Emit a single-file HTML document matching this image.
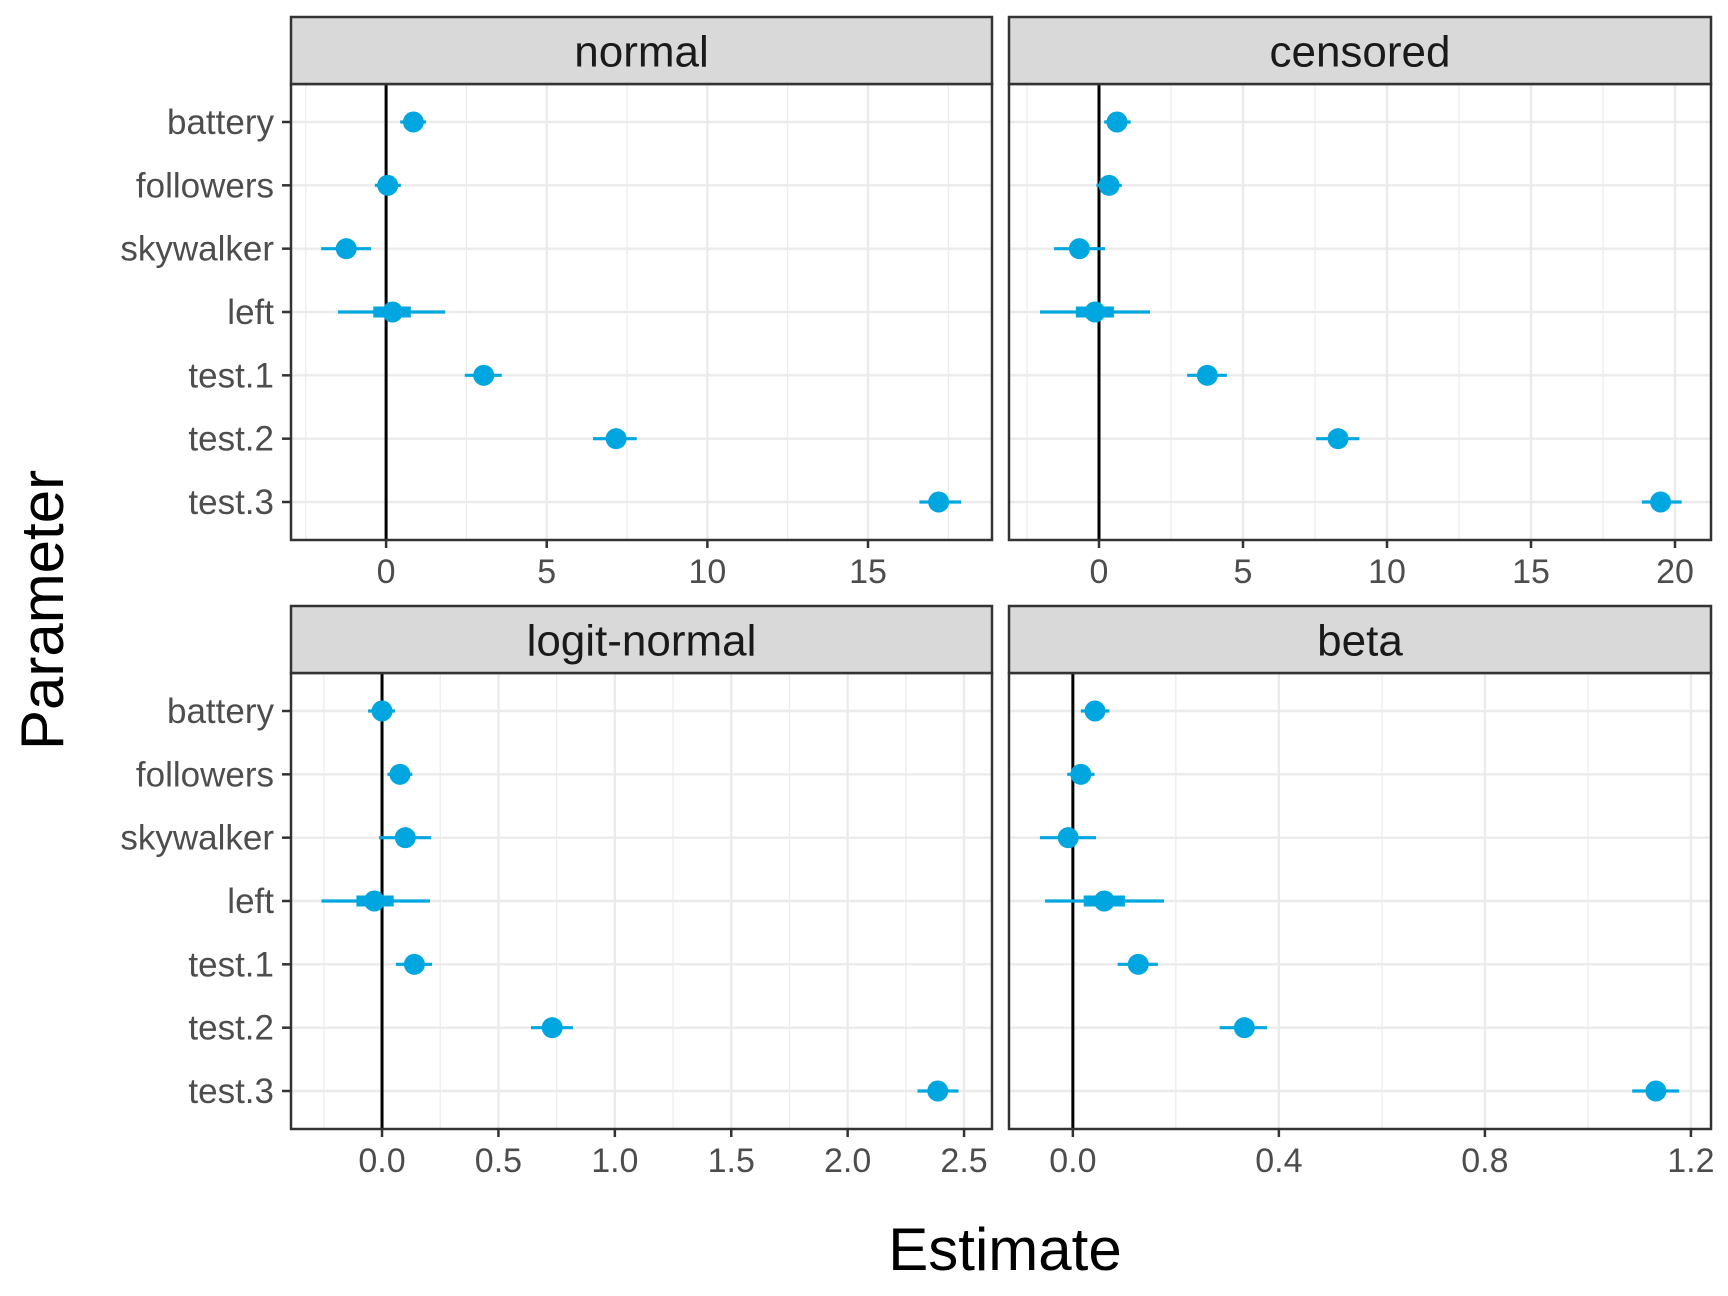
<!DOCTYPE html>
<html><head><meta charset="utf-8"><style>
html,body{margin:0;padding:0;background:#fff;}
svg{display:block;font-family:"Liberation Sans",Arial,sans-serif;}
</style></head><body>
<svg id="chart" width="1728" height="1296" viewBox="0 0 1728 1296" xmlns="http://www.w3.org/2000/svg">
<text x="1005" y="1270" font-size="60" text-anchor="middle" fill="#000">Estimate</text>
<text x="0" y="0" font-size="60" text-anchor="middle" fill="#000" transform="translate(63,610) rotate(-90)">Parameter</text>
</svg>
<script>
const params = ["battery","followers","skywalker","left","test.1","test.2","test.3"];
const panelNames = ["normal","censored","logit-normal","beta"];
const normalEst = [0.85,0.05,-1.24,0.2,3.04,7.16,17.2];
const normalLo = [0.44,-0.35,-2.02,-1.5,2.45,6.44,16.6];
const normalHi = [1.24,0.46,-0.47,1.84,3.6,7.8,17.9];
const normalInLo = [0.75,-0.05,-1.4,-0.4,2.9,7.0,17.05];
const normalInHi = [0.95,0.15,-1.05,0.77,3.2,7.35,17.35];
const censEst = [0.625,0.35,-0.68,-0.14,3.76,8.3,19.5];
const censLo = [0.18,-0.09,-1.56,-2.05,3.06,7.54,18.85];
const censHi = [1.1,0.79,0.21,1.77,4.44,9.04,20.23];
const censInLo = [0.5,0.25,-0.85,-0.8,3.6,8.1,19.3];
const censInHi = [0.75,0.45,-0.5,0.52,3.95,8.5,19.7];
const logitEst = [0.0,0.077,0.10,-0.033,0.139,0.731,2.387];
const logitLo = [-0.06,0.023,-0.013,-0.26,0.06,0.64,2.30];
const logitHi = [0.056,0.13,0.21,0.206,0.215,0.82,2.476];
const logitInLo = [-0.02,0.06,0.08,-0.11,0.12,0.71,2.37];
const logitInHi = [0.02,0.095,0.125,0.05,0.16,0.75,2.41];
const betaEst = [0.043,0.0155,-0.009,0.061,0.127,0.333,1.132];
const betaLo = [0.0155,-0.011,-0.064,-0.054,0.087,0.285,1.086];
const betaHi = [0.071,0.042,0.045,0.177,0.165,0.377,1.177];
const betaInLo = [0.035,0.008,-0.018,0.021,0.118,0.322,1.122];
const betaInHi = [0.051,0.023,0.0,0.101,0.136,0.344,1.142];
const normalTicks = [0,5,10,15];
const normalMinor = [-2.5,2.5,7.5,12.5,17.5];
const censTicks = [0,5,10,15,20];
const censMinor = [-2.5,2.5,7.5,12.5,17.5];
const logitTicks = [0,0.5,1,1.5,2,2.5];
const logitTickLabels = ["0.0","0.5","1.0","1.5","2.0","2.5"];
const logitMinor = [-0.25,0.25,0.75,1.25,1.75,2.25];
const betaTicks = [0,0.4,0.8,1.2];
const betaTickLabels = ["0.0","0.4","0.8","1.2"];
const betaMinor = [0.2,0.6,1.0];

const NS="http://www.w3.org/2000/svg";
const svg=document.getElementById('chart');
function mk(tag,attrs,parent){const e=document.createElementNS(NS,tag);for(const k in attrs)e.setAttribute(k,attrs[k]);(parent||svg).appendChild(e);return e;}

const panels=[
 {name:panelNames[0],x0:291,x1:992,top:84,stripTop:17,dmin:-2.96,dmax:18.86,est:normalEst,lo:normalLo,hi:normalHi,ilo:normalInLo,ihi:normalInHi,ticks:normalTicks,labels:normalTicks.map(String),minor:normalMinor,ylab:true},
 {name:panelNames[1],x0:1009,x1:1711,top:84,stripTop:17,dmin:-3.125,dmax:21.25,est:censEst,lo:censLo,hi:censHi,ilo:censInLo,ihi:censInHi,ticks:censTicks,labels:censTicks.map(String),minor:censMinor,ylab:false},
 {name:panelNames[2],x0:291,x1:992,top:673,stripTop:606,dmin:-0.391,dmax:2.62,est:logitEst,lo:logitLo,hi:logitHi,ilo:logitInLo,ihi:logitInHi,ticks:logitTicks,labels:logitTickLabels,minor:logitMinor,ylab:true},
 {name:panelNames[3],x0:1009,x1:1711,top:673,stripTop:606,dmin:-0.124,dmax:1.239,est:betaEst,lo:betaLo,hi:betaHi,ilo:betaInLo,ihi:betaInHi,ticks:betaTicks,labels:betaTickLabels,minor:betaMinor,ylab:false}
];
const PH=456, ROWH=PH/7.2;

panels.forEach(p=>{
 const g=mk('g',{});
 
 
 const xs=v=>p.x0+(v-p.dmin)/(p.dmax-p.dmin)*(p.x1-p.x0);
 const ys=i=>p.top+(0.6+i)*ROWH;
 const bottom=p.top+PH;
 p.minor.forEach(v=>{const l=mk('line',{x1:xs(v),x2:xs(v),y1:p.top,y2:bottom,stroke:'#ebebeb','stroke-width':1.2},g);
  });
 p.ticks.forEach(v=>{const l=mk('line',{x1:xs(v),x2:xs(v),y1:p.top,y2:bottom,stroke:'#ebebeb','stroke-width':2.4},g);
  });
 params.forEach((n,i)=>{const l=mk('line',{x1:p.x0,x2:p.x1,y1:ys(i),y2:ys(i),stroke:'#ebebeb','stroke-width':2.4},g);
  });
 const z=mk('line',{x1:xs(0),x2:xs(0),y1:p.top,y2:bottom,stroke:'#000','stroke-width':3},g);
 
 params.forEach((n,i)=>{
  const y=ys(i);
  const a=mk('line',{x1:xs(p.lo[i]),x2:xs(p.hi[i]),y1:y,y2:y,stroke:'#00a6df','stroke-width':3.2},g);
  
  const b=mk('line',{x1:xs(p.ilo[i]),x2:xs(p.ihi[i]),y1:y,y2:y,stroke:'#00a6df','stroke-width':11},g);
  
  const c=mk('circle',{cx:xs(p.est[i]),cy:y,r:10.5,fill:'#00a6df'},g);
  
 });
 const r=mk('rect',{x:p.x0,y:p.top,width:p.x1-p.x0,height:PH,fill:'none',stroke:'#333','stroke-width':2.5},g);
 
 const s=mk('rect',{x:p.x0,y:p.stripTop,width:p.x1-p.x0,height:p.top-p.stripTop,fill:'#d9d9d9',stroke:'#333','stroke-width':2.5},g);
 
 const st=mk('text',{x:(p.x0+p.x1)/2,y:(p.stripTop+p.top)/2+16,'font-size':44,'text-anchor':'middle',fill:'#1a1a1a'},g);
 st.textContent=p.name;
 
 p.ticks.forEach((v,k)=>{
  const t=mk('line',{x1:xs(v),x2:xs(v),y1:bottom,y2:bottom+8,stroke:'#333','stroke-width':2.5},g);
  
  const tl=mk('text',{x:xs(v),y:bottom+43,'font-size':34,'text-anchor':'middle',fill:'#4d4d4d'},g);
  tl.textContent=p.labels[k];
  
 });
 if(p.ylab){
  params.forEach((n,i)=>{
   const t=mk('line',{x1:p.x0-9,x2:p.x0,y1:ys(i),y2:ys(i),stroke:'#333','stroke-width':2.5},g);
   
   const tl=mk('text',{x:p.x0-17,y:ys(i)+12,'font-size':35,'text-anchor':'end',fill:'#4d4d4d'},g);
   tl.textContent=n;
   
  });
 }
});
</script>
</body></html>
